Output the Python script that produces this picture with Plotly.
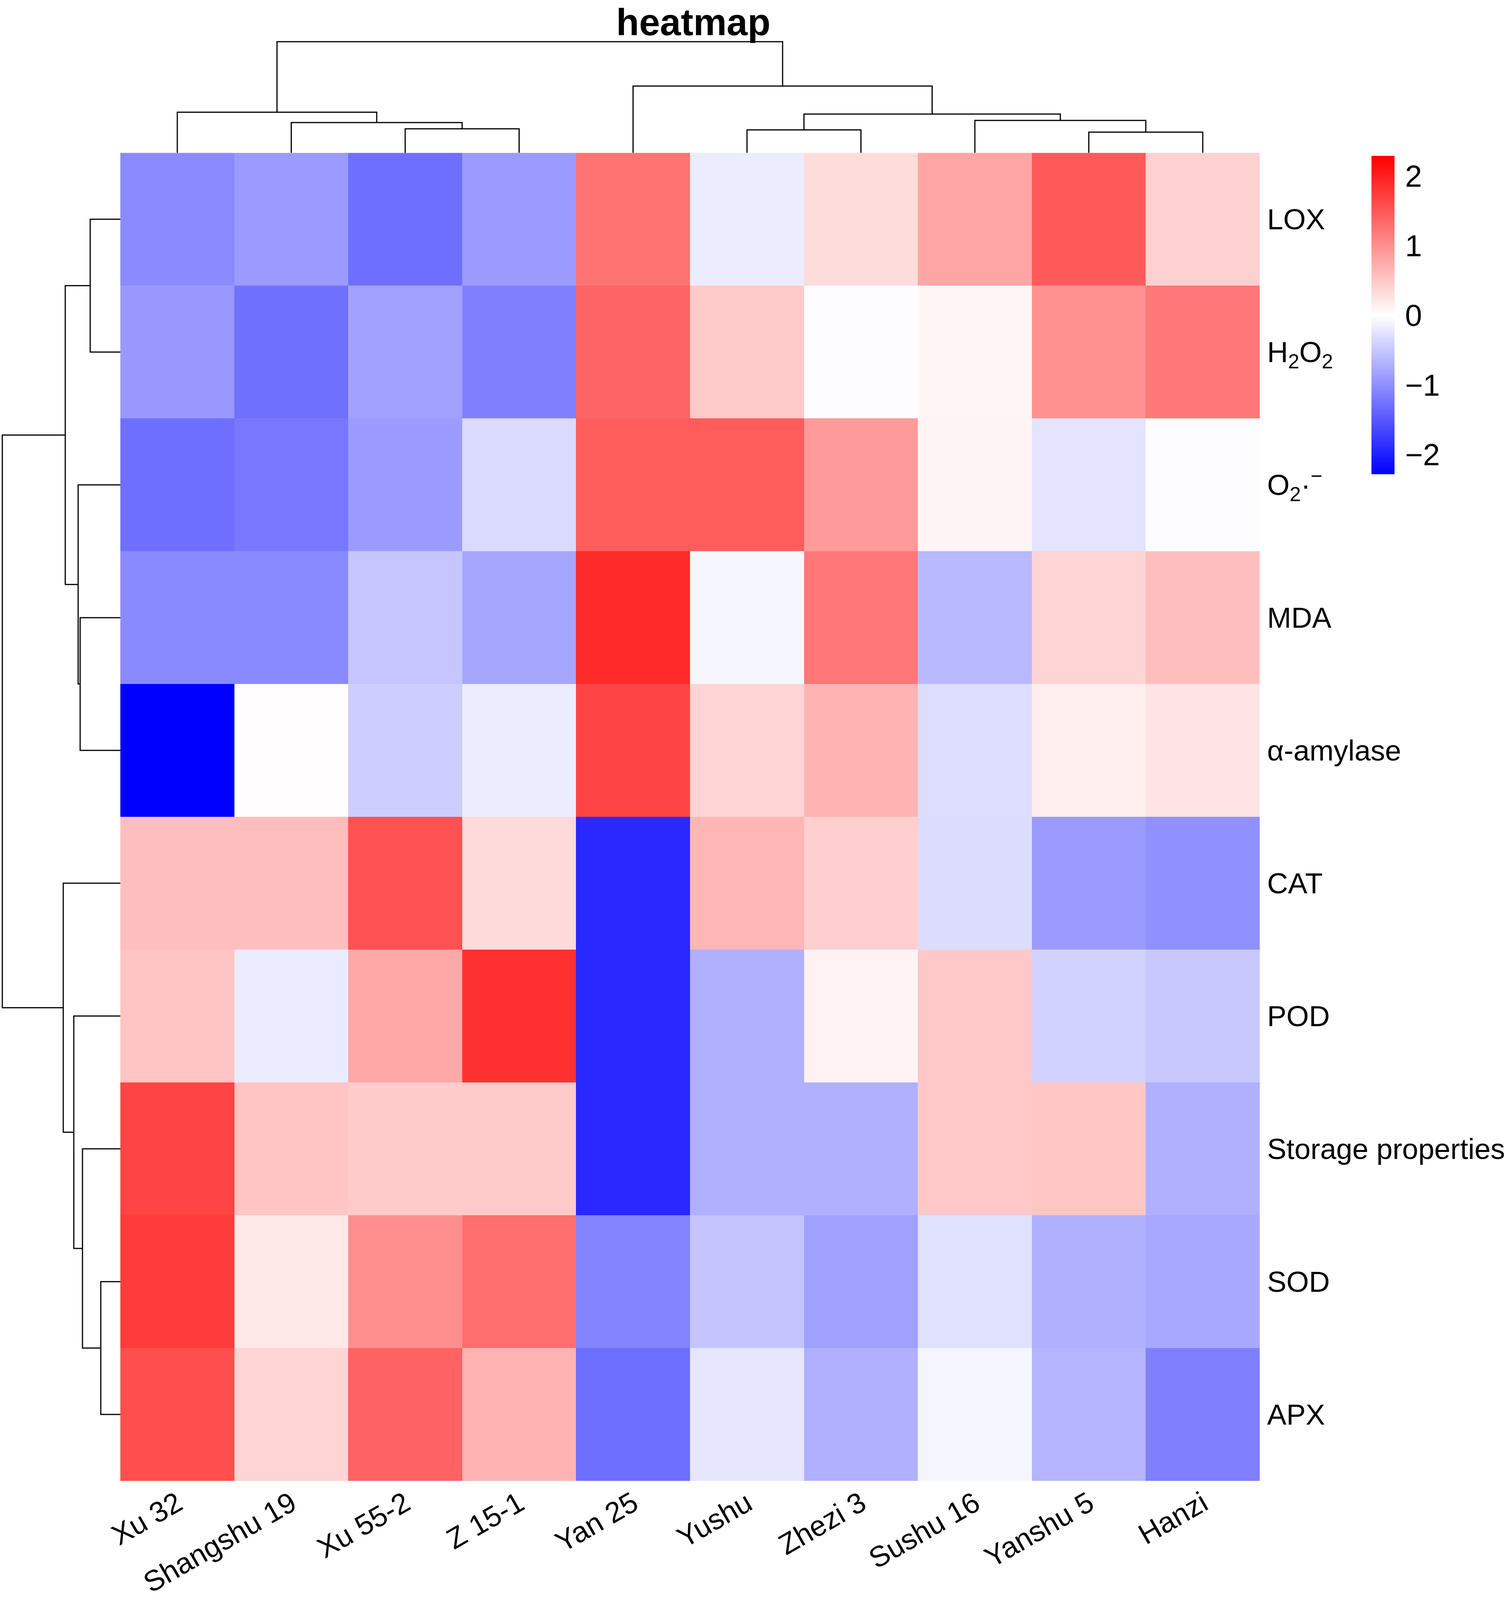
import plotly.graph_objects as go

# ---------------- data ----------------
columns = ["Xu 32", "Shangshu 19", "Xu 55-2", "Z 15-1", "Yan 25",
           "Yushu", "Zhezi 3", "Sushu 16", "Yanshu 5", "Hanzi"]
rows = ["LOX", "H<sub>2</sub>O<sub>2</sub>", "O<sub>2</sub>·<sup>−</sup>", "MDA",
        "α-amylase", "CAT", "POD", "Storage properties", "SOD", "APX"]

lox      = [-1.04, -0.89, -1.29, -0.89,  1.26, -0.17,  0.31,  0.81,  1.48,  0.42]
h2o2     = [-0.92, -1.28, -0.85, -1.14,  1.39,  0.48, -0.02,  0.09,  1.00,  1.21]
o2       = [-1.30, -1.21, -0.89, -0.33,  1.46,  1.46,  0.91,  0.10, -0.24, -0.02]
mda      = [-1.05, -1.05, -0.52, -0.80,  1.91, -0.08,  1.22, -0.63,  0.39,  0.58]
amylase  = [-2.28,  0.02, -0.45, -0.17,  1.68,  0.39,  0.67, -0.30,  0.15,  0.24]
cat      = [ 0.58,  0.58,  1.55,  0.33, -1.92,  0.66,  0.44, -0.31, -0.89, -0.99]
pod      = [ 0.53, -0.18,  0.78,  1.86, -1.92, -0.71,  0.12,  0.49, -0.40, -0.49]
storage  = [ 1.68,  0.53,  0.48,  0.48, -1.92, -0.71, -0.71,  0.49,  0.51, -0.71]
sod      = [ 1.75,  0.21,  1.01,  1.30, -1.10, -0.53, -0.85, -0.28, -0.71, -0.78]
apx      = [ 1.59,  0.39,  1.41,  0.67, -1.30, -0.22, -0.71, -0.09, -0.67, -1.14]
values = [lox, h2o2, o2, mda, amylase, cat, pod, storage, sod, apx]

# hierarchical clustering merges: (child a, child b, height); new ids start at n
col_merges = [(2, 3, 2.17), (1, 10, 2.73), (0, 11, 3.67),
              (8, 9, 1.87), (5, 6, 2.07), (7, 13, 2.93), (14, 15, 3.50),
              (4, 16, 6.03), (12, 17, 10.03)]
row_merges = [(0, 1, 2.57), (3, 4, 3.43), (2, 11, 3.60), (10, 12, 4.70),
              (8, 9, 1.67), (7, 14, 3.23), (6, 15, 3.97), (5, 16, 4.87),
              (13, 17, 10.07)]

colorbar_ticks = [-2, -1, 0, 1, 2]
zmin, zmax = -2.28, 2.29

# ---------------- layout geometry ----------------
W = 3862
H = 4096                      # visible page height of the browser window
SY = H / 4335.0               # vertical scale relative to the reference picture
hx0, hx1 = 308, 3224          # heatmap left / right (px)
hy0 = 414 * SY                # heatmap top
hy1 = 4012 * SY               # heatmap bottom
B = H - hy1                   # bottom margin for the column labels
PH = H - B                    # plot-area height
PX = 30.0                     # px per dendrogram height unit (left dendrogram)
PXV = PX * SY                 # px per unit for the top dendrogram
FONT = "Liberation Sans, Arial, sans-serif"


def dendro_segments(merges, n):
    pos = {i: float(i) for i in range(n)}
    hgt = {i: 0.0 for i in range(n)}
    p, h = [], []
    for k, (a, b, d) in enumerate(merges):
        pa, pb = pos[a], pos[b]
        p += [pa, pa, pb, pb, None]
        h += [hgt[a], d, d, hgt[b], None]
        pos[n + k] = (pa + pb) / 2
        hgt[n + k] = d
    return p, h


n = len(columns)
m = len(rows)
cp, ch = dendro_segments(col_merges, n)
rp, rh = dendro_segments(row_merges, m)

f0 = -zmin / (zmax - zmin)
colorscale = [[0, "rgb(0,0,255)"], [f0, "rgb(255,255,255)"], [1, "rgb(255,0,0)"]]

cb_top, cb_bot = 422 * SY, 1285 * SY

fig = go.Figure()
fig.add_trace(go.Heatmap(
    z=values, x=list(range(n)), y=list(range(m)),
    colorscale=colorscale, zmin=zmin, zmax=zmax, xgap=0, ygap=0,
    hoverinfo="skip",
    colorbar=dict(
        x=3510 / W, xanchor="left", y=1 - cb_top / PH, yanchor="top",
        thickness=59, thicknessmode="pixels",
        len=(cb_bot - cb_top) / PH, lenmode="fraction",
        xpad=0, ypad=0, outlinewidth=0,
        tickvals=colorbar_ticks, ticks="outside", ticklen=12,
        tickcolor="rgba(0,0,0,0)",
        tickfont=dict(family=FONT, size=78, color="black"),
    ),
))
fig.add_trace(go.Scatter(x=cp, y=ch, mode="lines", xaxis="x2", yaxis="y2",
                         line=dict(color="black", width=3), hoverinfo="skip",
                         showlegend=False))
fig.add_trace(go.Scatter(x=rh, y=rp, mode="lines", xaxis="x3", yaxis="y3",
                         line=dict(color="black", width=3), hoverinfo="skip",
                         showlegend=False))

hid = dict(visible=False, showgrid=False, zeroline=False, automargin=False)
top_pad = 56 * SY
fig.update_layout(
    width=W, height=H, autosize=False,
    margin=dict(l=0, r=0, t=0, b=B, pad=0),
    paper_bgcolor="white", plot_bgcolor="white",
    showlegend=False,
    font=dict(family=FONT, color="black"),
    xaxis=dict(domain=[hx0 / W, hx1 / W], range=[-0.5, n - 0.5],
               tickvals=list(range(n)), ticktext=columns, tickangle=-30,
               ticks="", showgrid=False, zeroline=False, showline=False,
               automargin=False, ticklabelstandoff=0,
               tickfont=dict(family=FONT, size=74, color="black")),
    yaxis=dict(domain=[0, 1 - hy0 / PH], range=[m - 0.5, -0.5],
               tickvals=list(range(m)), ticktext=rows, side="right",
               ticks="", showgrid=False, zeroline=False, showline=False,
               automargin=False, ticklabelstandoff=18,
               tickfont=dict(family=FONT, size=74, color="black")),
    xaxis2=dict(domain=[hx0 / W, hx1 / W], range=[-0.5, n - 0.5], anchor="y2", **hid),
    yaxis2=dict(domain=[1 - hy0 / PH, 1 - top_pad / PH], range=[0, (hy0 - top_pad) / PXV],
                anchor="x2", **hid),
    xaxis3=dict(domain=[0, hx0 / W], range=[hx0 / PX, 0], anchor="y3", **hid),
    yaxis3=dict(domain=[0, 1 - hy0 / PH], range=[m - 0.5, -0.5], anchor="x3", **hid),
    annotations=[
        dict(text="<b>heatmap</b>", xref="paper", yref="paper",
             x=1774 / W, y=1 - 2 / PH, xanchor="center", yanchor="top",
             borderpad=0, showarrow=False,
             font=dict(family=FONT, size=96, color="black")),
    ],
)

post = """
document.documentElement.style.margin = '0';
document.body.style.margin = '0';
document.body.style.overflow = 'hidden';
"""
fig.write_html("out.html", post_script=post, config={"displayModeBar": False})
